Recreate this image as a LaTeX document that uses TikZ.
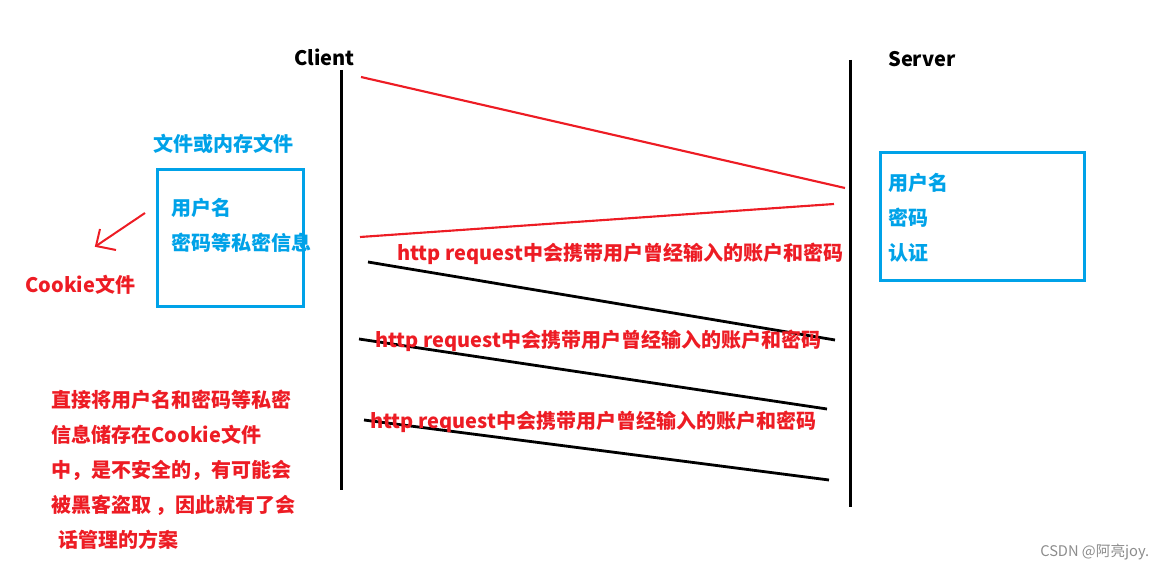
\documentclass[tikz,border=0pt]{standalone}
\usepackage{fontspec}
\setmainfont{Noto Sans CJK SC}
\usetikzlibrary{arrows.meta}
\definecolor{myred}{RGB}{237,28,36}
\definecolor{myblue}{RGB}{0,162,232}
\tikzset{
  redtxt/.style={text=myred,font=\bfseries\fontsize{15}{18}\selectfont,anchor=west,inner sep=0pt},
  bluetxt/.style={text=myblue,font=\bfseries\fontsize{15}{18}\selectfont,anchor=west,inner sep=0pt},
  blacktxt/.style={text=black,font=\bfseries\fontsize{15}{18}\selectfont,anchor=west,inner sep=0pt},
  lifeline/.style={line width=2.25pt,black},
  redmsg/.style={line width=1.6pt,myred},
  blackmsg/.style={line width=2.1pt,black},
  bluebox/.style={draw=myblue,line width=2.25pt},
}
\begin{document}
\begin{tikzpicture}[x=0.75pt,y=-0.75pt]
\useasboundingbox (0,0) rectangle (1171,570);
% lifelines
\coordinate (c1) at (341,70); \coordinate (c2) at (341,490);
\coordinate (s1) at (850,60); \coordinate (s2) at (850,507);
\draw[lifeline] (c1) -- (c2);
\draw[lifeline] (s1) -- (s2);
\node[blacktxt] (client) at (294,57) {Client};
\node[blacktxt] (server) at (888,59) {Server};
% messages
\coordinate (m1a) at (361,77); \coordinate (m1b) at (845,188);
\coordinate (m2a) at (834,204); \coordinate (m2b) at (360,237);
\draw[redmsg] (m1a) -- (m1b);
\draw[redmsg] (m2a) -- (m2b);
\coordinate (b1a) at (368,262); \coordinate (b1b) at (835,340);
\coordinate (b2a) at (359,339); \coordinate (b2b) at (827,409);
\coordinate (b3a) at (364,420); \coordinate (b3b) at (829,480);
\draw[blackmsg] (b1a) -- (b1b);
\draw[blackmsg] (b2a) -- (b2b);
\draw[blackmsg] (b3a) -- (b3b);
\node[redtxt] (l1) at (397,254) {http request中会携带用户曾经输入的账户和密码};
\node[redtxt] (l2) at (375,341) {http request中会携带用户曾经输入的账户和密码};
\node[redtxt] (l3) at (370,422) {http request中会携带用户曾经输入的账户和密码};
% left box
\node[bluebox,minimum width=146pt*0.75,minimum height=137pt*0.75,anchor=north west,inner sep=0pt] (lbox) at (155.5,168.5) {};
\node[bluetxt] (lboxt) at (153,144) {文件或内存文件};
\node[bluetxt] (u1) at (171,208) {用户名};
\node[bluetxt] (u2) at (171,243) {密码等私密信息};
% right box
\node[bluebox,minimum width=204pt*0.75,minimum height=128pt*0.75,anchor=north west,inner sep=0pt] (rbox) at (878.5,151.5) {};
\node[bluetxt] (r1) at (888,183) {用户名};
\node[bluetxt] (r2) at (888,218) {密码};
\node[bluetxt] (r3) at (888,253) {认证};
% arrow
\coordinate (a1) at (145,213); \coordinate (a2) at (96,246);
\draw[myred,line width=1.5pt] (a1) -- (a2);
\draw[myred,line width=1.5pt] (100,229) -- (a2) -- (116,250);
\node[redtxt] (cookie) at (25,285) {Cookie文件};
% paragraph
\node[redtxt] (p1) at (51,400) {直接将用户名和密码等私密};
\node[redtxt] (p2) at (51,435) {信息储存在Cookie文件};
\node[redtxt] (p3) at (51,470) {中，是不安全的，有可能会};
\node[redtxt] (p4) at (51,505) {被黑客盗取 ，因此就有了会};
\node[redtxt] (p5) at (58,540) {话管理的方案};
% watermark
\node[anchor=west,inner sep=0pt,text=black!45,font=\fontsize{11}{13}\selectfont] (wm) at (1040,552) {CSDN @阿亮joy.};
\end{tikzpicture}
\end{document}
